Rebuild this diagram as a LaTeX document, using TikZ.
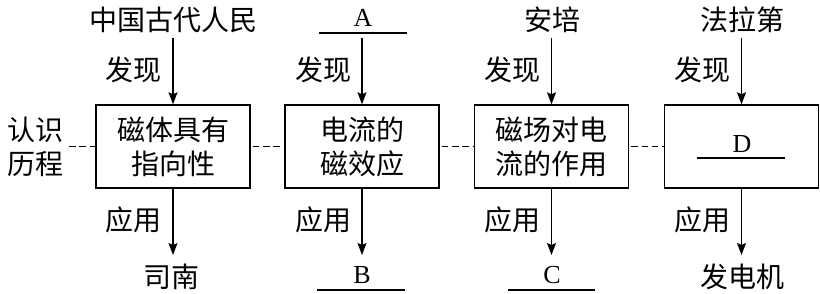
\documentclass[tikz,border=0pt]{standalone}
\usepackage{fontspec}
\setmainfont{Noto Sans CJK SC}
\newfontfamily\lat{Liberation Serif}
\usetikzlibrary{arrows.meta}
\tikzset{
  box/.style={draw,line width=1.4pt,minimum width=154pt,minimum height=83pt,inner sep=0pt,align=center,font=\fontsize{28}{34}\selectfont},
  txt/.style={inner sep=0pt,font=\fontsize{28}{34}\selectfont,align=center},
  ltr/.style={inner sep=0pt,anchor=base,font=\lat\fontsize{26}{30}\selectfont},
  arr/.style={line width=1.2pt,-{Stealth[length=12pt,width=9pt,inset=2pt]}},
  dsh/.style={line width=1.1pt,dash pattern=on 6.5pt off 3.8pt,dash phase=-2pt},
  uline/.style={line width=1.2pt}
}
\begin{document}
\begin{tikzpicture}[x=1pt,y=-1pt]
\useasboundingbox (0,0) rectangle (820,294);
% boxes
\node[box] (b1) at (173,146.5) {\raisebox{-2pt}{\parbox{150pt}{\centering 磁体具有\\指向性}}};
\node[box] (b2) at (362,146.5) {\raisebox{-2pt}{\parbox{150pt}{\centering 电流的\\磁效应}}};
\node[box] (b3) at (551.5,146.5) {\raisebox{-2pt}{\parbox{150pt}{\centering 磁场对电\\流的作用}}};
\node[box] (b4) at (741.5,146.5) {};
% left label
\node[txt] (lk) at (35,146.5) {认识\\历程};
\coordinate (lk0) at (67,146.5);
% top labels
\node[txt] (t1) at (173,20) {中国古代人民};
\node[ltr] (t2) at (363,27) {A};
\node[txt] (t3) at (552,20) {安培};
\node[txt] (t4) at (742,20) {法拉第};
\draw[uline] (319,33) -- (407,33);
% D inside box 4
\node[ltr] (d) at (742,153) {D};
\draw[uline] (697,158) -- (785,158);
% bottom labels
\node[txt] (u1) at (171,277) {司南};
\node[ltr] (u2) at (362,283) {B};
\node[ltr] (u3) at (552,283) {C};
\node[txt] (u4) at (742,277) {发电机};
\draw[uline] (317,290) -- (405,290);
\draw[uline] (508,290) -- (595,290);
% start / end coordinates of arrows
\foreach \i/\x in {1/173,2/362,3/551.5,4/741.5}{
  \coordinate (s\i) at (\x,38);
  \coordinate (e\i) at (\x,255);
}
\foreach \i in {1,2,3,4}{
  \draw[arr] (s\i) -- (b\i.north);
  \draw[arr] (b\i.south) -- (e\i);
}
% verb labels
\foreach \i/\x in {1/133,2/323,3/512,4/702}{
  \node[txt] (f\i) at (\x,70) {发现};
  \node[txt] (y\i) at (\x,220) {应用};
}
% dashed connectors
\draw[dsh] (lk0) -- (b1.west);
\draw[dsh] (b1.east) -- (b2.west);
\draw[dsh] (b2.east) -- (b3.west);
\draw[dsh] (b3.east) -- (b4.west);
\end{tikzpicture}
\end{document}
